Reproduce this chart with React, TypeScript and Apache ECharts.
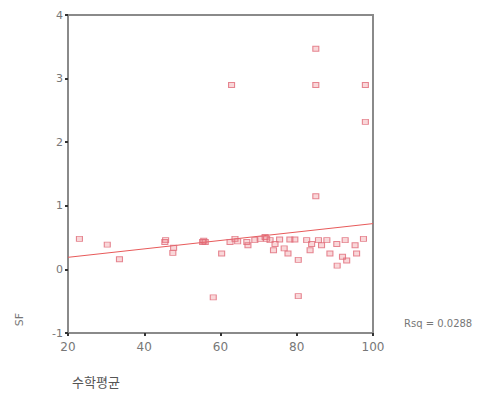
import React, { useEffect, useRef } from "react";
import * as echarts from "echarts";

const xTicks = [20, 40, 60, 80, 100];
const yTicks = [-1, 0, 1, 2, 3, 4];

// 수학평균 vs SF observations
const mathAvg = [
  23, 30.3, 33.5, 45.4, 45.6, 47.5, 47.7, 55.3, 55.6, 56, 58.1, 60.3, 62.5, 63.8, 62.9,
  66.9, 67.2, 70.4, 71.7, 72.1, 73, 73.9, 74.3, 76.7, 77.7, 78.2, 79.5, 80.4, 80.4, 82.6,
  83.5, 83.9, 85, 85, 85, 85.7, 86.5, 87.9, 88.7, 90.5, 90.6, 92, 92.7, 93.1, 95.3, 95.7,
  97.5, 98, 98, 69, 75.5, 64.5
];
const sfValues = [
  0.48, 0.39, 0.16, 0.43, 0.46, 0.26, 0.34, 0.43, 0.45, 0.43, -0.44, 0.25, 0.43, 0.48, 2.9,
  0.43, 0.38, 0.48, 0.51, 0.48, 0.46, 0.3, 0.4, 0.33, 0.25, 0.47, 0.47, 0.15, -0.42, 0.46,
  0.3, 0.4, 3.47, 2.9, 1.15, 0.46, 0.38, 0.46, 0.25, 0.4, 0.06, 0.2, 0.46, 0.14, 0.38, 0.25,
  0.48, 2.9, 2.32, 0.46, 0.47, 0.44
];

// Linear fit line endpoints
const fitX = [20, 100];
const fitY = [0.19, 0.72];
const rsqLabel = "Rsq = 0.0288";
const xName = "수학평균";
const yName = "SF";

export default function App() {
  const ref = useRef<HTMLDivElement>(null);
  useEffect(() => {
    if (!ref.current) return;
    const chart = echarts.init(ref.current, null, { renderer: "svg" });
    const pts = mathAvg.map((x, i) => [x, sfValues[i]]);
    const fit = fitX.map((x, i) => [x, fitY[i]]);
    const axisColor = "#8a8a8a";
    const labelColor = "#777";
    chart.setOption({
      animation: false,
      backgroundColor: "#fff",
      grid: {
        left: 68,
        right: 128,
        top: 15,
        bottom: 68,
        show: true,
        borderColor: axisColor,
        borderWidth: 2,
        backgroundColor: "transparent",
      },
      xAxis: {
        type: "value",
        min: xTicks[0],
        max: xTicks[xTicks.length - 1],
        interval: 20,
        splitLine: { show: false },
        axisLine: { show: true, onZero: false, lineStyle: { color: axisColor, width: 2 } },
        axisTick: { show: true, length: 3, lineStyle: { color: "#333", width: 2 } },
        axisLabel: { color: labelColor, fontSize: 12, margin: 8, fontFamily: "DejaVu Sans" },
      },
      yAxis: {
        type: "value",
        min: yTicks[0],
        max: yTicks[yTicks.length - 1],
        interval: 1,
        splitLine: { show: false },
        axisLine: { show: true, onZero: false, lineStyle: { color: axisColor, width: 2 } },
        axisTick: { show: true, length: 3, lineStyle: { color: "#333", width: 2 } },
        axisLabel: { color: labelColor, fontSize: 11, margin: 5, fontFamily: "DejaVu Sans" },
      },
      series: [
        {
          type: "line",
          data: fit,
          symbol: "none",
          lineStyle: { color: "#e85a5a", width: 1 },
          z: 3,
        },
        {
          type: "scatter",
          data: pts,
          symbol: "rect",
          symbolSize: [6, 5],
          itemStyle: {
            color: "rgba(232,110,120,0.35)",
            borderColor: "#e06a78",
            borderWidth: 1,
          },
          z: 4,
        },
      ],
      graphic: [
        {
          type: "text",
          left: 14,
          top: 313,
          rotation: Math.PI / 2,
          style: { text: yName, fill: labelColor, fontSize: 11, fontFamily: "DejaVu Sans" },
        },
        {
          type: "text",
          left: 404,
          top: 318,
          style: { text: rsqLabel, fill: labelColor, fontSize: 10, fontFamily: "DejaVu Sans" },
        },
        {
          type: "text",
          left: 72,
          top: 375,
          style: { text: xName, fill: "#555", fontSize: 13, fontFamily: "Noto Sans CJK KR" },
        },
      ],
    });
    return () => chart.dispose();
  }, []);
  return <div ref={ref} style={{ width: 501, height: 401, position: "absolute", left: 0, top: 0 }} />;
}
